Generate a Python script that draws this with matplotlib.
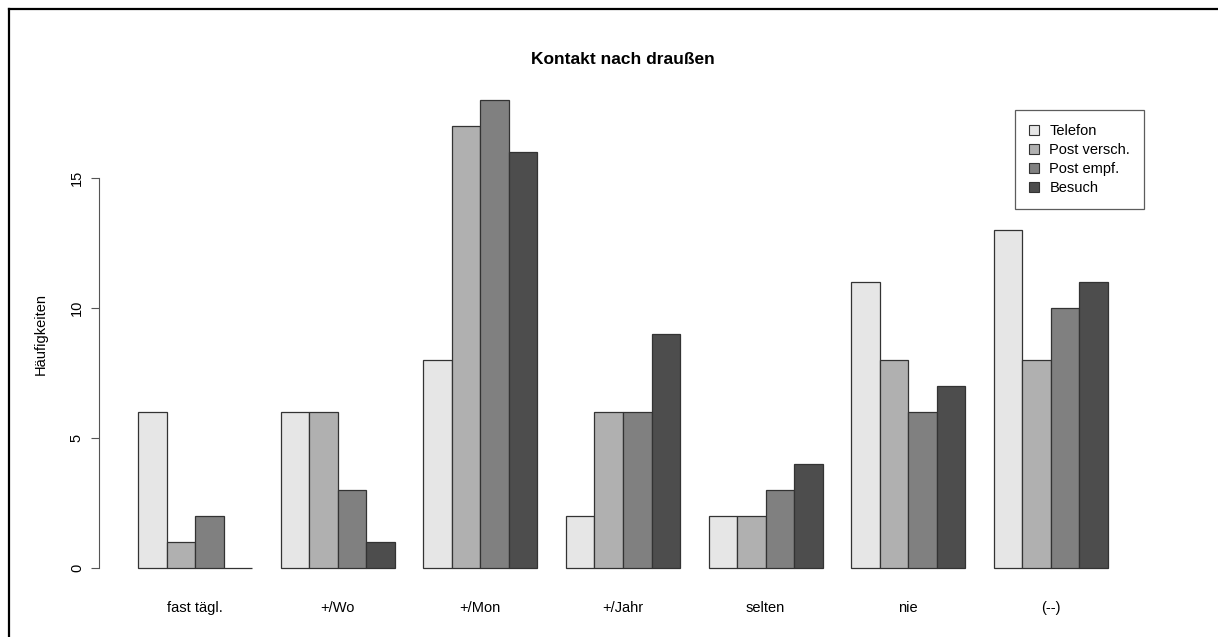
import matplotlib
matplotlib.use("Agg")
import matplotlib.pyplot as plt
import numpy as np
from matplotlib.lines import Line2D
from matplotlib.patches import Patch

plt.rcParams["font.family"] = ["Liberation Sans", "DejaVu Sans"]

categories = ["fast tägl.", "+/Wo", "+/Mon", "+/Jahr", "selten", "nie", "(--)"]
series = ["Telefon", "Post versch.", "Post empf.", "Besuch"]
telefon      = [6, 6, 8, 2, 2, 11, 13]
post_versch  = [1, 6, 17, 6, 2, 8, 8]
post_empf    = [2, 3, 18, 6, 3, 6, 10]
besuch       = [0, 1, 16, 9, 4, 7, 11]
colors = ["#E6E6E6", "#B0B0B0", "#808080", "#4D4D4D"]
yticks = [0, 5, 10, 15]

values = [telefon, post_versch, post_empf, besuch]

fig = plt.figure(figsize=(12.18, 6.37), dpi=100)
ax = fig.add_axes([99.2 / 1218, 1 - 586.7 / 637, (1146.8 - 99.2) / 1218, (586.7 - 81.3) / 637])

# R-style beside barplot: bars of width 1, one gap between groups
n = len(series)
for k in range(len(categories)):
    left = 1 + k * (n + 1)
    for j in range(n):
        ax.bar(left + j, values[j][k], width=1, align="edge",
               color=colors[j], edgecolor="#333333", linewidth=0.9)

ax.set_xlim(1 - 0.04 * 34, 35 + 0.04 * 34)
ax.set_ylim(-0.72, 18.72)

for s in ["top", "right", "bottom"]:
    ax.spines[s].set_visible(False)
ax.spines["left"].set_bounds(0, 15)
ax.spines["left"].set_color("#555555")
ax.set_yticks(yticks)
ax.set_yticklabels([str(t) for t in yticks], rotation=90, va="center", fontsize=10.5)
ax.tick_params(axis="y", length=6, color="#555555", pad=5)

centers = [1 + k * (n + 1) + n / 2 for k in range(len(categories))]
ax.set_xticks(centers)
ax.set_xticklabels(categories, fontsize=10.5)
ax.tick_params(axis="x", length=0, pad=10)

ax.set_ylabel("Häufigkeiten", fontsize=10.5, labelpad=16)

fig.text(623 / 1218, 1 - 60 / 637, "Kontakt nach draußen", ha="center", va="center",
         fontsize=12.5, fontweight="bold")

handles = [Patch(facecolor=c, edgecolor="#333333", linewidth=0.8) for c in colors]
leg = fig.legend(handles, series, loc="upper left",
                 bbox_to_anchor=(1015 / 1218, 1 - 110 / 637),
                 frameon=True, fancybox=False, edgecolor="#333333",
                 fontsize=10.5, handlelength=0.7, handleheight=0.7,
                 handletextpad=0.7, labelspacing=0.35, borderpad=0.95,
                 borderaxespad=0)
leg.get_frame().set_linewidth(0.9)

# outer frame (top and left visible in the reference)
fig.add_artist(Line2D([9 / 1218, 9 / 1218], [0, 1 - 9 / 637], color="black", linewidth=1.6,
                      transform=fig.transFigure))
fig.add_artist(Line2D([9 / 1218, 1], [1 - 9 / 637, 1 - 9 / 637], color="black", linewidth=1.6,
                      transform=fig.transFigure))

fig.savefig("out.png", dpi=100)
plt.close(fig)
